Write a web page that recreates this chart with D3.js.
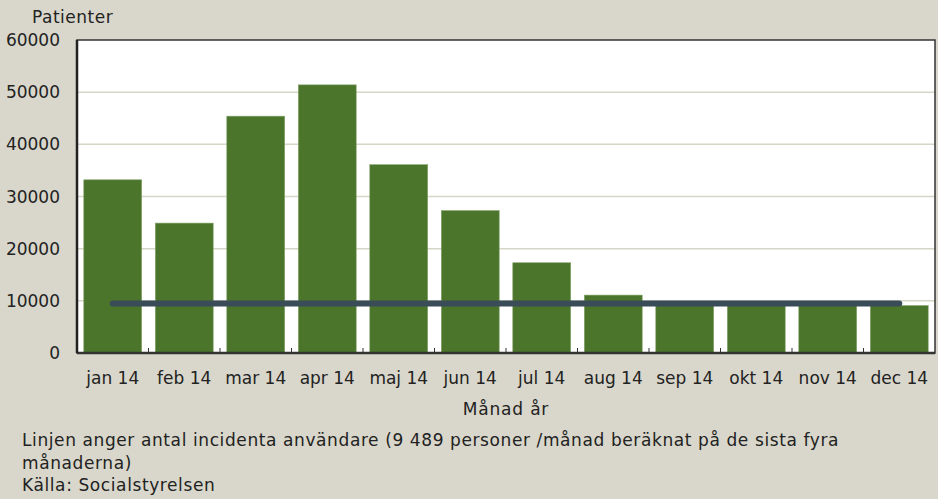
<!DOCTYPE html>
<html lang="sv">
	<head>
		<meta charset="utf-8">
		<title>Patienter per månad</title>
		<script type="text/javascript" src="https://cdn.jsdelivr.net/npm/d3@7"></script>
		<style type="text/css">
			body { margin: 0; background: #d9d7cb; }
			svg { display: block; }
			text { font-family: "DejaVu Sans", sans-serif; fill: #222; }
		</style>
	</head>
	<body>
		<div id="chart"></div>

		<script type="text/javascript">

			// Data
			var months = ["jan 14", "feb 14", "mar 14", "apr 14", "maj 14", "jun 14",
						  "jul 14", "aug 14", "sep 14", "okt 14", "nov 14", "dec 14"];
			var patients = [33200, 24900, 45400, 51400, 36100, 27300,
							17300, 11100, 9300, 9300, 9200, 9100];
			var incident = [9489, 9489, 9489, 9489, 9489, 9489,
							9489, 9489, 9489, 9489, 9489, 9489];
			var yTicks = [0, 10000, 20000, 30000, 40000, 50000, 60000];

			var w = 938;
			var h = 499;
			var plot = { left: 77, right: 935, top: 40, bottom: 353 };

			var svg = d3.select("#chart")
				.append("svg")
				.attr("width", w)
				.attr("height", h);

			var xScale = d3.scaleBand()
				.domain(months)
				.range([plot.left, plot.right])
				.paddingInner(0.19)
				.paddingOuter(0.095);
			var yScale = d3.scaleLinear()
				.domain([0, 60000])
				.range([plot.bottom, plot.top]);

			// plot background
			svg.append("rect")
				.attr("x", plot.left)
				.attr("y", plot.top)
				.attr("width", plot.right - plot.left)
				.attr("height", plot.bottom - plot.top)
				.attr("fill", "white");

			// gridlines
			svg.selectAll("line.grid")
				.data(yTicks.slice(1, -1))
				.enter()
				.append("line")
				.attr("class", "grid")
				.attr("x1", plot.left)
				.attr("x2", plot.right)
				.attr("y1", function(d) { return yScale(d); })
				.attr("y2", function(d) { return yScale(d); })
				.attr("stroke", "#d6d6c6")
				.attr("stroke-width", 1.5);

			// bars
			svg.selectAll("rect.bar")
				.data(patients)
				.enter()
				.append("rect")
				.attr("class", "bar")
				.attr("x", function(d, i) { return xScale(months[i]); })
				.attr("y", function(d) { return yScale(d); })
				.attr("width", xScale.bandwidth())
				.attr("height", function(d) { return plot.bottom - yScale(d); })
				.attr("fill", "#4a752b")
				.attr("stroke", "#86a46e")
				.attr("stroke-width", 0.6);

			// incident users line
			var line = d3.line()
				.x(function(d, i) { return xScale(months[i]) + xScale.bandwidth() / 2; })
				.y(function(d) { return yScale(d); });
			svg.append("path")
				.datum(incident)
				.attr("d", line)
				.attr("fill", "none")
				.attr("stroke", "#3a4c58")
				.attr("stroke-width", 6)
				.attr("stroke-linecap", "round");

			// frame
			svg.append("rect")
				.attr("x", plot.left)
				.attr("y", plot.top)
				.attr("width", plot.right - plot.left)
				.attr("height", plot.bottom - plot.top)
				.attr("fill", "none")
				.attr("stroke", "#333")
				.attr("stroke-width", 1.5);
			svg.append("line")
				.attr("x1", plot.left).attr("x2", plot.right)
				.attr("y1", plot.bottom).attr("y2", plot.bottom)
				.attr("stroke", "#333").attr("stroke-width", 2.5);
			svg.append("line")
				.attr("x1", plot.left).attr("x2", plot.left)
				.attr("y1", plot.top).attr("y2", plot.bottom)
				.attr("stroke", "#222").attr("stroke-width", 2.5);

			// x ticks at category boundaries, pointing up
			svg.selectAll("line.xtick")
				.data(months.slice(1))
				.enter()
				.append("line")
				.attr("class", "xtick")
				.attr("x1", function(d) { return xScale(d) - xScale.step() * 0.095; })
				.attr("x2", function(d) { return xScale(d) - xScale.step() * 0.095; })
				.attr("y1", plot.bottom)
				.attr("y2", plot.bottom - 5)
				.attr("stroke", "#333")
				.attr("stroke-width", 1);

			// x labels
			svg.selectAll("text.xlab")
				.data(months)
				.enter()
				.append("text")
				.attr("class", "xlab")
				.text(function(d) { return d; })
				.attr("x", function(d) { return xScale(d) + xScale.bandwidth() / 2; })
				.attr("y", 384)
				.attr("text-anchor", "middle")
				.attr("font-size", "17px");

			// y labels
			svg.selectAll("text.ylab")
				.data(yTicks)
				.enter()
				.append("text")
				.attr("class", "ylab")
				.text(function(d) { return d; })
				.attr("x", 60)
				.attr("y", function(d) { return yScale(d) + 6; })
				.attr("text-anchor", "end")
				.attr("font-size", "17px");

			// titles
			svg.append("text")
				.text("Patienter")
				.attr("x", 32)
				.attr("y", 23)
				.attr("font-size", "17px")
				.attr("letter-spacing", "0.5px");
			svg.append("text")
				.text("Månad år")
				.attr("x", (plot.left + plot.right) / 2)
				.attr("y", 415)
				.attr("text-anchor", "middle")
				.attr("font-size", "17px")
				.attr("letter-spacing", "0.8px");

			// footnote
			var notes = ["Linjen anger antal incidenta användare (9 489 personer /månad beräknat på de sista fyra",
						 "månaderna)",
						 "Källa: Socialstyrelsen"];
			svg.selectAll("text.note")
				.data(notes)
				.enter()
				.append("text")
				.attr("class", "note")
				.text(function(d) { return d; })
				.attr("x", 22)
				.attr("y", function(d, i) { return 446 + i * 22.5; })
				.attr("font-size", "17px")
				.attr("letter-spacing", "0.6px");

		</script>
	</body>
</html>
